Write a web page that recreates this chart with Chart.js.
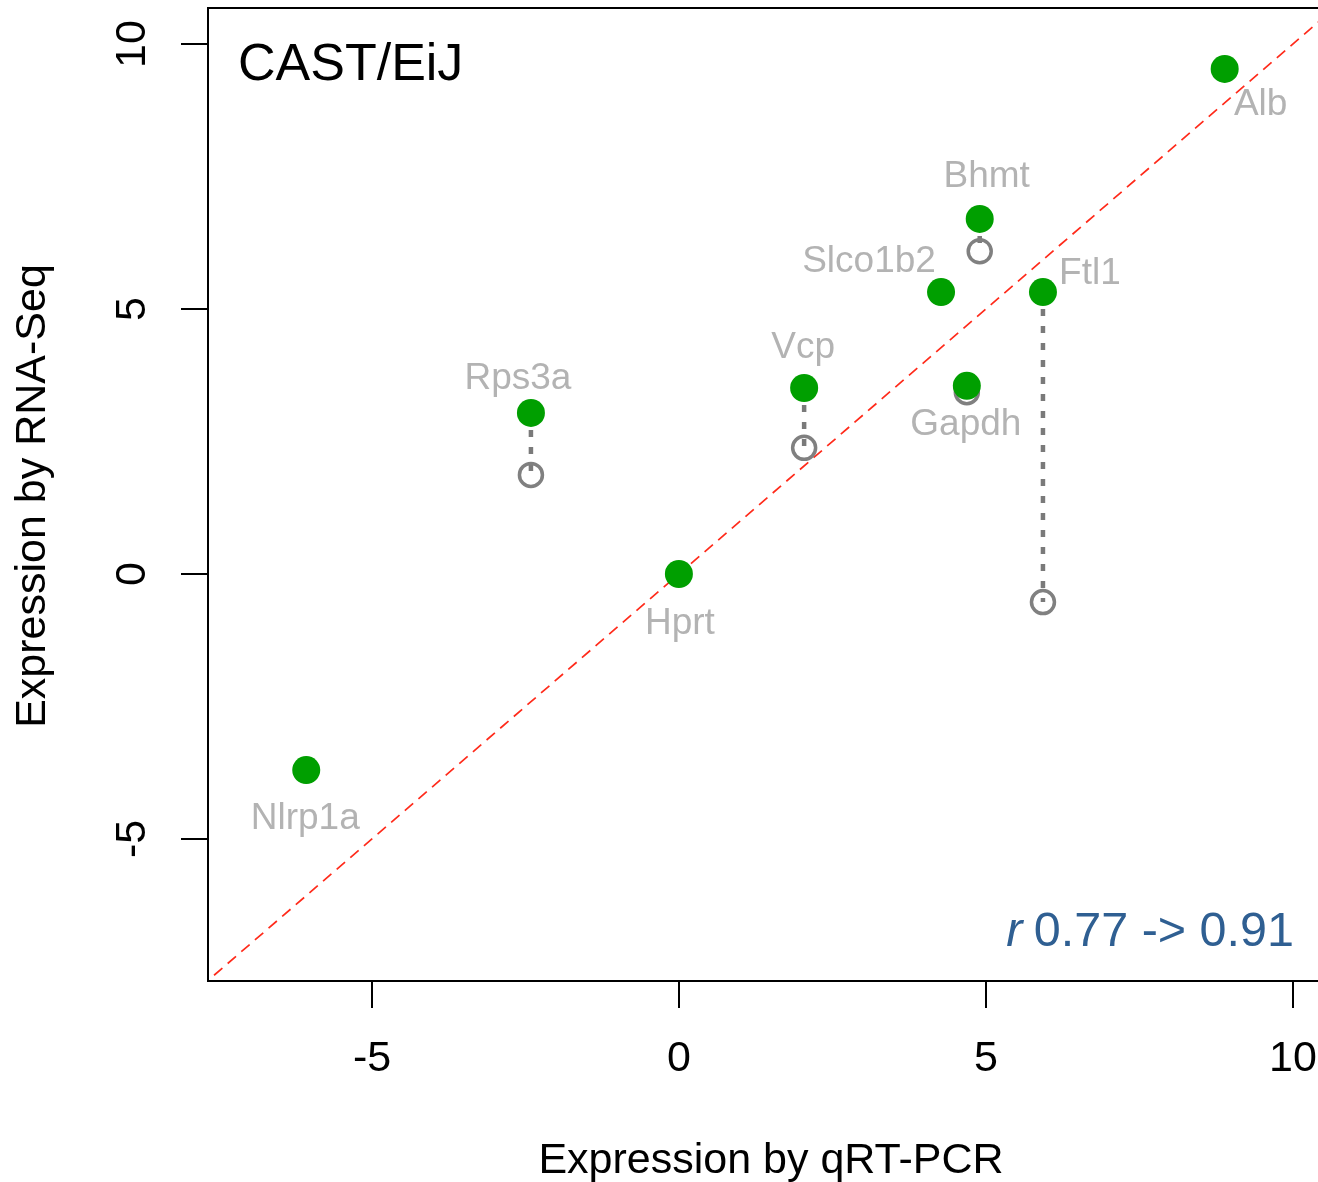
<!DOCTYPE html>
<html>
<head>
<meta charset="utf-8">
<script src="https://cdn.jsdelivr.net/npm/chart.js@4.4.1/dist/chart.umd.min.js"></script>
<style>
  html, body { margin: 0; padding: 0; background: #fff; }
  #wrap { width: 1318px; height: 1182px; position: relative; }
</style>
</head>
<body>
<div id="wrap"><canvas id="c"></canvas></div>
<script>
// ── Data ──────────────────────────────────────────────────────
const genes = ['Nlrp1a', 'Rps3a', 'Hprt', 'Vcp', 'Slco1b2', 'Gapdh', 'Bhmt', 'Ftl1', 'Alb'];
const qpcr = [-6.07, -2.41, 0, 2.04, 4.27, 4.69, 4.90, 5.93, 8.89];
const rnaseqCorrected = [-3.70, 3.04, 0, 3.51, 5.32, 3.55, 6.70, 5.32, 9.53];
const rnaseqOriginal = [-3.70, 1.87, 0, 2.38, 5.32, 3.43, 6.09, -0.53, 9.53];
const xTicks = [-5, 0, 5, 10];
const yTicks = [-5, 0, 5, 10];
const strainLabel = 'CAST/EiJ';
const rBefore = '0.77';
const rAfter = '0.91';

// label offsets from the point (px), layout only
const labelOffsets = [
  [-1, 49], [-13, -34], [1, 50], [-1, -40], [-72, -30],
  [-1, 39], [7, -42], [47, -18], [36, 36]
];

const FONT = '"Liberation Sans", Arial, Helvetica, sans-serif';

// ── Datasets ──────────────────────────────────────────────────
const connectors = genes
  .map((g, i) => ({ g, i }))
  .filter(({ i }) => rnaseqCorrected[i] !== rnaseqOriginal[i])
  .map(({ g, i }) => ({
    type: 'line',
    label: g + ' shift',
    data: [{ x: qpcr[i], y: rnaseqCorrected[i] }, { x: qpcr[i], y: rnaseqOriginal[i] }],
    borderColor: '#7a7a7a',
    borderWidth: 4.5,
    borderDash: [7, 10],
    pointRadius: 0,
    order: 2
  }));

const datasets = [
  {
    type: 'scatter',
    label: 'corrected',
    data: genes.map((g, i) => ({ x: qpcr[i], y: rnaseqCorrected[i] })),
    pointBackgroundColor: '#009f00',
    pointBorderWidth: 0,
    pointRadius: 14,
    order: 0
  },
  {
    type: 'scatter',
    label: 'original',
    data: genes.map((g, i) => ({ x: qpcr[i], y: rnaseqOriginal[i] })),
    pointBackgroundColor: 'rgba(0,0,0,0)',
    pointBorderColor: '#808080',
    pointBorderWidth: 3.5,
    pointRadius: 11.5,
    order: 1
  },
  ...connectors,
  {
    type: 'line',
    label: 'identity',
    data: [{ x: -20, y: -20 }, { x: 20, y: 20 }],
    borderColor: '#ff2a1a',
    borderWidth: 1.7,
    borderDash: [11, 7],
    pointRadius: 0,
    order: 3
  }
];

// ── Base-graphics style decorations ───────────────────────────
const decor = {
  id: 'decor',
  afterDraw(chart) {
    const { ctx, chartArea: a, scales: { x, y } } = chart;
    ctx.save();

    // box (left, top, bottom; right side runs off the canvas)
    ctx.strokeStyle = '#000';
    ctx.lineWidth = 2;
    ctx.beginPath();
    ctx.moveTo(a.right + 20, a.top);
    ctx.lineTo(a.left, a.top);
    ctx.lineTo(a.left, a.bottom);
    ctx.lineTo(a.right + 20, a.bottom);
    ctx.stroke();

    // ticks
    ctx.fillStyle = '#000';
    ctx.font = '43px ' + FONT;
    ctx.textAlign = 'center';
    ctx.textBaseline = 'middle';
    xTicks.forEach(t => {
      const px = Math.round(x.getPixelForValue(t));
      ctx.beginPath();
      ctx.moveTo(px, a.bottom);
      ctx.lineTo(px, a.bottom + 27);
      ctx.stroke();
      ctx.fillText(String(t), px, 1059);
    });
    yTicks.forEach(t => {
      const py = Math.round(y.getPixelForValue(t));
      ctx.beginPath();
      ctx.moveTo(a.left, py);
      ctx.lineTo(a.left - 27, py);
      ctx.stroke();
      ctx.save();
      ctx.translate(133, py);
      ctx.rotate(-Math.PI / 2);
      ctx.fillText(String(t), 0, 0);
      ctx.restore();
    });

    // axis titles
    ctx.fillText('Expression by qRT-PCR', 771, 1161);
    ctx.save();
    ctx.translate(33, 496);
    ctx.rotate(-Math.PI / 2);
    ctx.fillText('Expression by RNA-Seq', 0, 0);
    ctx.restore();

    // strain
    ctx.font = '52px ' + FONT;
    ctx.textAlign = 'left';
    ctx.fillText(strainLabel, 238, 66);

    // gene labels
    ctx.font = '37px ' + FONT;
    ctx.fillStyle = '#b3b3b3';
    ctx.textAlign = 'center';
    genes.forEach((g, i) => {
      const px = x.getPixelForValue(qpcr[i]);
      const py = y.getPixelForValue(rnaseqCorrected[i]);
      ctx.fillText(g, px + labelOffsets[i][0], py + labelOffsets[i][1]);
    });

    // correlation
    ctx.fillStyle = '#2f5f92';
    ctx.textAlign = 'right';
    ctx.font = '48.5px ' + FONT;
    const rest = ' ' + rBefore + ' -> ' + rAfter;
    ctx.fillText(rest, 1294, 933);
    const w = ctx.measureText(rest).width;
    ctx.font = 'italic 48.5px ' + FONT;
    ctx.fillText('r', 1296 - w, 933);

    ctx.restore();
  }
};

new Chart(document.getElementById('c'), {
  data: { datasets },
  options: {
    responsive: true,
    maintainAspectRatio: false,
    animation: false,
    events: [],
    layout: { autoPadding: false, padding: { left: 208, top: 8, right: 0, bottom: 201 } },
    plugins: { legend: { display: false }, tooltip: { enabled: false } },
    scales: {
      x: { type: 'linear', min: -7.67, max: 10.41, display: false },
      y: { type: 'linear', min: -7.68, max: 10.68, display: false }
    }
  },
  plugins: [decor]
});
</script>
</body>
</html>
